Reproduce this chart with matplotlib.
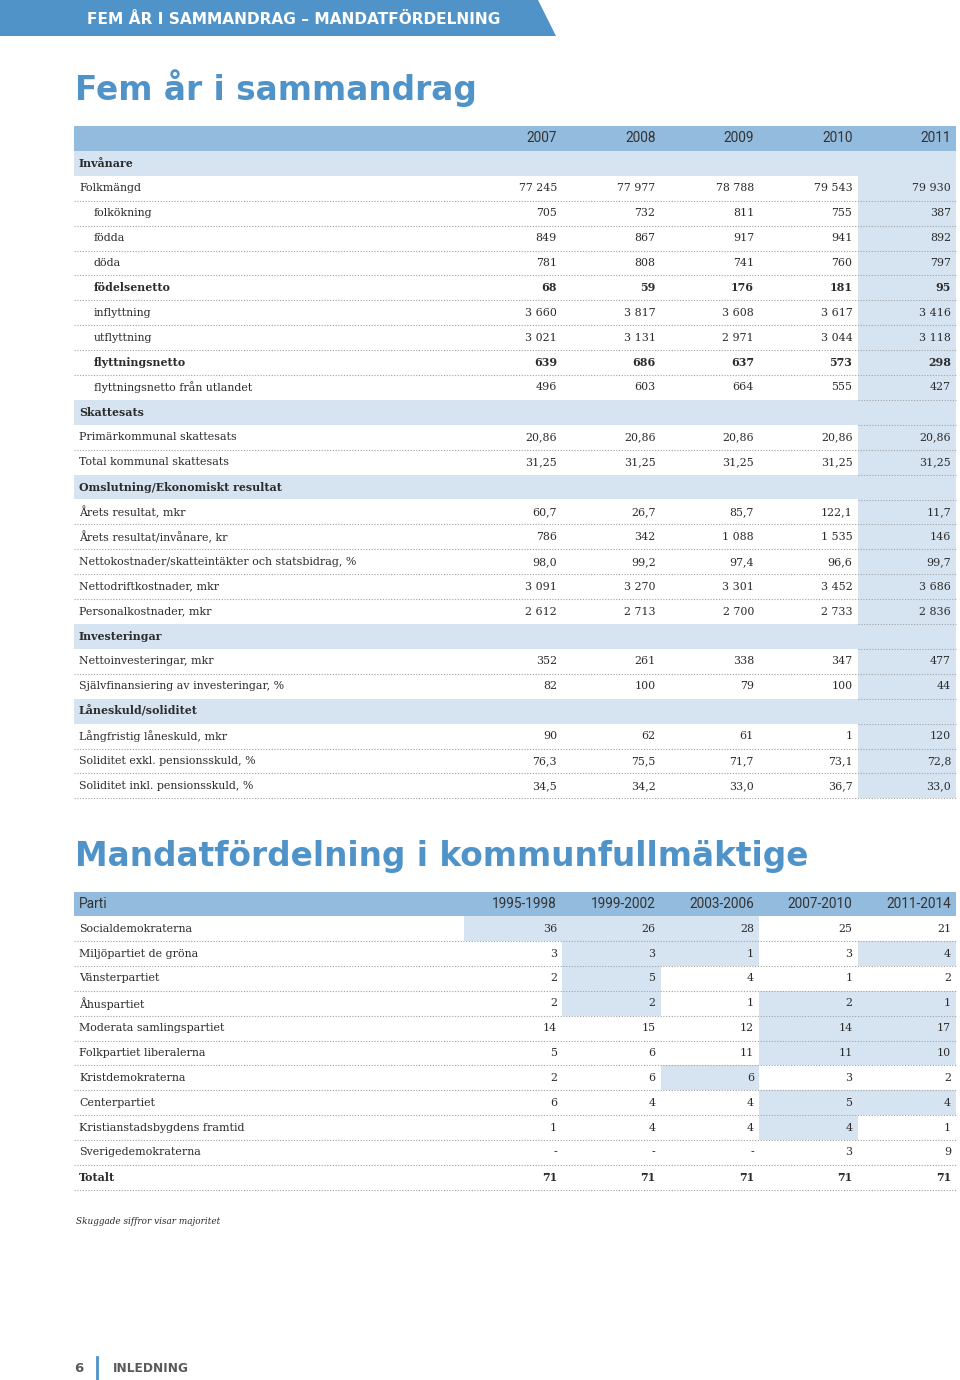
import matplotlib
matplotlib.use("Agg")
import matplotlib.pyplot as plt
from matplotlib.patches import Rectangle, Polygon

# ---- data: fem år i sammandrag
years = ["2007", "2008", "2009", "2010", "2011"]
labels1 = ["Invånare", "Folkmängd", "folkökning", "födda", "döda", "födelsenetto",
           "inflyttning", "utflyttning", "flyttningsnetto", "flyttningsnetto från utlandet",
           "Skattesats", "Primärkommunal skattesats", "Total kommunal skattesats",
           "Omslutning/Ekonomiskt resultat", "Årets resultat, mkr", "Årets resultat/invånare, kr",
           "Nettokostnader/skatteintäkter och statsbidrag, %", "Nettodriftkostnader, mkr",
           "Personalkostnader, mkr", "Investeringar", "Nettoinvesteringar, mkr",
           "Självfinansiering av investeringar, %", "Låneskuld/soliditet",
           "Långfristig låneskuld, mkr", "Soliditet exkl. pensionsskuld, %",
           "Soliditet inkl. pensionsskuld, %"]
# s = section, n = normal, i = indented, b = indented bold
kinds1 = ["s", "n", "i", "i", "i", "b", "i", "i", "b", "i",
          "s", "n", "n", "s", "n", "n", "n", "n", "n", "s", "n", "n", "s", "n", "n", "n"]
decimals1 = [0, 0, 0, 0, 0, 0, 0, 0, 0, 0, 0, 2, 2, 0, 1, 0, 1, 0, 0, 0, 0, 0, 0, 0, 1, 1]
v2007 = [None, 77245, 705, 849, 781, 68, 3660, 3021, 639, 496,
         None, 20.86, 31.25, None, 60.7, 786, 98.0, 3091, 2612, None, 352, 82, None, 90, 76.3, 34.5]
v2008 = [None, 77977, 732, 867, 808, 59, 3817, 3131, 686, 603,
         None, 20.86, 31.25, None, 26.7, 342, 99.2, 3270, 2713, None, 261, 100, None, 62, 75.5, 34.2]
v2009 = [None, 78788, 811, 917, 741, 176, 3608, 2971, 637, 664,
         None, 20.86, 31.25, None, 85.7, 1088, 97.4, 3301, 2700, None, 338, 79, None, 61, 71.7, 33.0]
v2010 = [None, 79543, 755, 941, 760, 181, 3617, 3044, 573, 555,
         None, 20.86, 31.25, None, 122.1, 1535, 96.6, 3452, 2733, None, 347, 100, None, 1, 73.1, 36.7]
v2011 = [None, 79930, 387, 892, 797, 95, 3416, 3118, 298, 427,
         None, 20.86, 31.25, None, 11.7, 146, 99.7, 3686, 2836, None, 477, 44, None, 120, 72.8, 33.0]

# ---- data: mandatfördelning
periods = ["1995-1998", "1999-2002", "2003-2006", "2007-2010", "2011-2014"]
parties = ["Socialdemokraterna", "Miljöpartiet de gröna", "Vänsterpartiet", "Åhuspartiet",
           "Moderata samlingspartiet", "Folkpartiet liberalerna", "Kristdemokraterna",
           "Centerpartiet", "Kristianstadsbygdens framtid", "Sverigedemokraterna"]
m1995 = [36, 3, 2, 2, 14, 5, 2, 6, 1, None]
m1999 = [26, 3, 5, 2, 15, 6, 6, 4, 4, None]
m2003 = [28, 1, 4, 1, 12, 11, 6, 4, 4, None]
m2007 = [25, 3, 1, 2, 14, 11, 3, 5, 4, 3]
m2011 = [21, 4, 2, 1, 17, 10, 2, 4, 1, 9]
# majoritet (skuggade)
maj1995 = [1, 0, 0, 0, 0, 0, 0, 0, 0, 0]
maj1999 = [1, 1, 1, 1, 0, 0, 0, 0, 0, 0]
maj2003 = [1, 1, 0, 0, 0, 0, 1, 0, 0, 0]
maj2007 = [0, 0, 0, 1, 1, 1, 0, 1, 1, 0]
maj2011 = [0, 1, 0, 1, 1, 1, 0, 1, 0, 0]

BLUE = "#4f93c8"
HEAD = "#93bbdd"
LIGHT = "#d6e4f2"
TXT = "#2b2b2b"
DOT = "#a0a0a0"
SANS = "Roboto"
SERIF = "DejaVu Serif"
TITLE = "DejaVu Sans"
FS = 7.9


def fmt(v, d):
    if v is None:
        return "-"
    s = f"{v:,.{d}f}"
    return s.replace(",", " ").replace(".", ",")


fig = plt.figure(figsize=(9.6, 13.8), dpi=100)
ax = fig.add_axes([0, 0, 1, 1])
ax.set_xlim(0, 960)
ax.set_ylim(1380, 0)
ax.axis("off")

# banner
ax.add_patch(Polygon([(0, 0), (538, 0), (556, 36), (0, 36)], closed=True, color=BLUE, lw=0))
ax.text(87, 19, "FEM ÅR I SAMMANDRAG – MANDATFÖRDELNING", color="white", fontsize=11.1,
        fontweight="bold", family="DejaVu Sans", va="center", ha="left")

ax.text(75, 100, "Fem år i sammandrag", color=BLUE, fontsize=23.6, fontweight="bold",
        family=TITLE, va="baseline")

x_left, x_right = 74, 956
col_right = [562, 660.5, 759, 857.5, 956]
col_w = 98.5
LS = (0, (1, 1.5))

# ---- table 1
top1, pitch1 = 126, 24.9
vals1 = [v2007, v2008, v2009, v2010, v2011]
n1 = len(labels1)


def yc(top, pitch, i):
    return top + pitch * (i + 0.5)


ax.add_patch(Rectangle((x_left, top1), x_right - x_left, pitch1, color=HEAD, lw=0))
for j, y in enumerate(years):
    ax.text(col_right[j] - 5, yc(top1, pitch1, 0), y, ha="right", va="center",
            family=SANS, fontsize=9.8, color="#333333")

# shaded last year column
ax.add_patch(Rectangle((col_right[3], top1 + 2 * pitch1), col_w, (n1 - 1) * pitch1,
                       color=LIGHT, lw=0))

for i, lab in enumerate(labels1):
    r = i + 1
    y = yc(top1, pitch1, r)
    k = kinds1[i]
    if k == "s":
        ax.add_patch(Rectangle((x_left, top1 + r * pitch1), x_right - x_left, pitch1,
                               color=LIGHT, lw=0))
        ax.text(79, y, lab, ha="left", va="center", family=SERIF, fontsize=FS,
                fontweight="bold", color=TXT)
        continue
    bold = "bold" if k == "b" else "normal"
    xl = 94 if k in ("i", "b") else 79
    ax.text(xl, y, lab, ha="left", va="center", family=SERIF, fontsize=FS,
            fontweight=bold, color=TXT)
    for j in range(5):
        ax.text(col_right[j] - 5, y, fmt(vals1[j][i], decimals1[i]), ha="right", va="center",
                family=SERIF, fontsize=FS, fontweight=bold, color=TXT)
    yb = top1 + (r + 1) * pitch1
    last = i == n1 - 1
    if last or kinds1[i + 1] != "s":
        ax.plot([x_left, x_right], [yb, yb], color=DOT, lw=0.8, ls=LS)
    else:
        ax.plot([col_right[3], x_right], [yb, yb], color=DOT, lw=0.8, ls=LS)
    if i > 1 and kinds1[i - 1] == "s":
        yt = top1 + r * pitch1
        ax.plot([col_right[3], x_right], [yt, yt], color=DOT, lw=0.8, ls=LS)

# ---- table 2
ax.text(75, 866, "Mandatfördelning i kommunfullmäktige", color=BLUE, fontsize=23.6,
        fontweight="bold", family=TITLE, va="baseline")

top2, pitch2 = 891.5, 24.85
seats = [m1995, m1999, m2003, m2007, m2011]
majs = [maj1995, maj1999, maj2003, maj2007, maj2011]
ax.add_patch(Rectangle((x_left, top2), x_right - x_left, pitch2, color=HEAD, lw=0))
ax.text(79, yc(top2, pitch2, 0), "Parti", ha="left", va="center", family=SANS,
        fontsize=9.8, color="#333333")
for j, p in enumerate(periods):
    ax.text(col_right[j] - 5, yc(top2, pitch2, 0), p, ha="right", va="center",
            family=SANS, fontsize=9.8, color="#333333")

rows2 = parties + ["Totalt"]
for i, lab in enumerate(rows2):
    r = i + 1
    y = yc(top2, pitch2, r)
    total = lab == "Totalt"
    w = "bold" if total else "normal"
    ax.text(79, y, lab, ha="left", va="center", family=SERIF, fontsize=FS,
            fontweight=w, color=TXT)
    for j in range(5):
        if total:
            v = sum(s for s in seats[j] if s is not None)
        else:
            v = seats[j][i]
            if majs[j][i]:
                ax.add_patch(Rectangle((col_right[j] - col_w, top2 + r * pitch2), col_w,
                                       pitch2, color=LIGHT, lw=0))
        ax.text(col_right[j] - 5, y, fmt(v, 0), ha="right", va="center", family=SERIF,
                fontsize=FS, fontweight=w, color=TXT)
    yb = top2 + (r + 1) * pitch2
    ax.plot([x_left, x_right], [yb, yb], color=DOT, lw=0.8, ls=LS)

ax.text(76, 1221, "Skuggade siffror visar majoritet", ha="left", va="center",
        family=SERIF, fontsize=6.4, style="italic", color=TXT)

# footer
ax.text(74, 1369, "6", ha="left", va="center", family="DejaVu Sans", fontsize=9.5,
        fontweight="bold", color="#5a5a5a")
ax.plot([97, 97], [1357, 1379], color=BLUE, lw=2)
ax.text(113, 1369, "INLEDNING", ha="left", va="center", family="DejaVu Sans", fontsize=8.7,
        fontweight="bold", color="#5a5a5a")

fig.savefig("out.png", dpi=100)
